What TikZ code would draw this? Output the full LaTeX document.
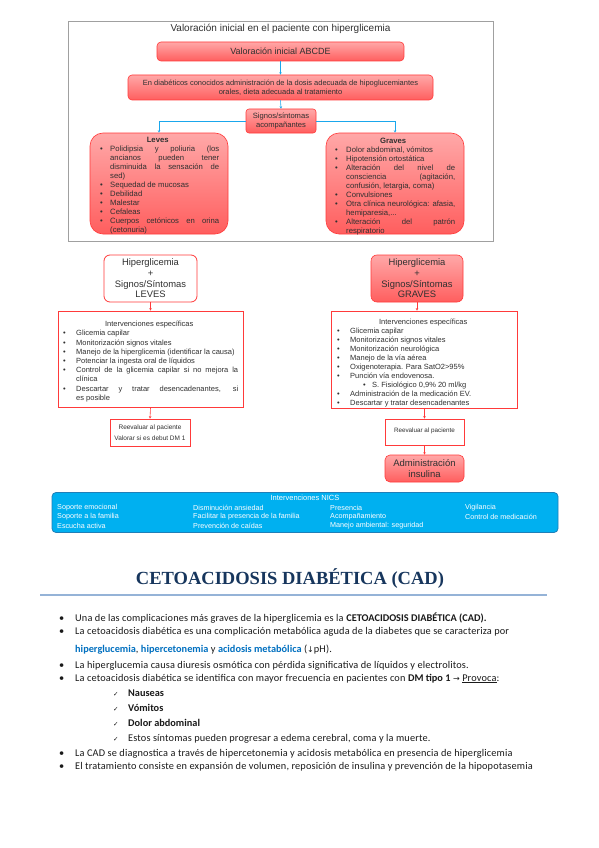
\documentclass[tikz,border=0pt]{standalone}
\usepackage{fontspec}
\setmainfont{Liberation Sans}
\newfontfamily\carlito[LetterSpace=1.5,BoldFeatures={LetterSpace=0}]{Carlito}
\newfontfamily\serifb{Liberation Serif}
\newfontfamily\djv{DejaVu Sans}
\usetikzlibrary{arrows.meta}
\definecolor{redtop}{HTML}{FFA8A8}
\definecolor{redbot}{HTML}{FF5E5E}
\definecolor{boxborder}{HTML}{FF3A3A}
\definecolor{framegray}{HTML}{A0A0A0}
\definecolor{arrblue}{HTML}{1AA7EC}
\definecolor{txt}{HTML}{303030}
\definecolor{nicsfill}{HTML}{00B0F0}
\definecolor{nicsdraw}{HTML}{1F7FB8}
\definecolor{navy}{HTML}{17365D}
\definecolor{rulec}{HTML}{95B3D7}
\definecolor{hlblue}{HTML}{0070C0}
\definecolor{bodytxt}{HTML}{1A1A1A}
\newlength\bind
\newlength\tind
\newcommand\li[1]{\par\noindent\hangindent=\tind\hangafter=1\makebox[\tind][l]{\hspace*{\bind}\textbullet}#1}
\newcommand\lisub[1]{\par\noindent\hangindent=38pt\hangafter=1\makebox[38pt][l]{\hspace*{29pt}\textbullet}#1}
\hyphenpenalty=10000
\exhyphenpenalty=10000
\tolerance=10000
\tikzset{
 redbox/.style={draw=boxborder, line width=0.6, top color=redtop, bottom color=redbot, inner sep=1, text=txt},
 whitebox/.style={draw=boxborder, line width=0.8, fill=white, text=txt, inner sep=1},
 intbox/.style={draw=boxborder, line width=0.8, fill=white},
 framebox/.style={draw=framegray, line width=0.9, fill=white},
 bluearr/.style={draw=arrblue, line width=0.6, -{Stealth[length=2.5pt,width=2.5pt]}},
 redarr/.style={draw=boxborder, line width=0.6, -{Stealth[length=2.5pt,width=2.5pt]}},
 listtext/.style={inner sep=0, align=justify, text=txt, font=\fontsize{7.7}{9}\selectfont, anchor=north west},
 inttext/.style={inner sep=0, align=justify, text=txt, font=\fontsize{7.5}{9.2}\selectfont, anchor=north west, text width=178},
 nicstxt/.style={text=white, font=\fontsize{7.2}{9}\selectfont, anchor=west, inner sep=0},
 body/.style={font=\carlito\fontsize{10.3}{12}\selectfont, anchor=base west, inner sep=0, text=bodytxt},
}
\begin{document}
\begin{tikzpicture}[x=1pt,y=-1pt]
\useasboundingbox (0,0) rectangle (599,848);
\fill[white] (0,0) rectangle (599,848);

% ---------- top frame ----------
\node[framebox, minimum width=425, minimum height=220] (frame) at (280.5,131) {};
\node[text=txt, font=\fontsize{10}{12}\selectfont] (ttl) at (280.5,29) {Valoración inicial en el paciente con hiperglicemia};
\node[redbox, rounded corners=4, minimum width=247, minimum height=19, font=\fontsize{9}{11}\selectfont] (abcde) at (280.5,51.5) {Valoración inicial ABCDE};
\node[redbox, rounded corners=4, minimum width=305, minimum height=25, align=center, font=\fontsize{7.5}{9}\selectfont] (diab) at (280.5,87.5) {En diabéticos conocidos administración de la dosis adecuada de hipoglucemiantes\\orales, dieta adecuada al tratamiento};
\node[redbox, rounded corners=3, minimum width=70, minimum height=24, align=center, font=\fontsize{7.6}{9.5}\selectfont] (signos) at (281,121) {Signos/síntomas\\acompañantes};
\node[redbox, rounded corners=13, minimum width=138, minimum height=101] (leves) at (159,183.5) {};
\node[redbox, rounded corners=13, minimum width=138, minimum height=101] (graves) at (395,183.5) {};

\node[listtext, text width=123] (levesT) at (96,137.5) {\setlength\bind{4pt}\setlength\tind{14pt}%
{\centering\textbf{Leves}\par}%
\li{Polidipsia y poliuria (los\linebreak ancianos pueden tener\linebreak disminuida la sensación de\linebreak sed)}%
\li{Sequedad de mucosas}%
\li{Debilidad}%
\li{Malestar}%
\li{Cefaleas}%
\li{Cuerpos cetónicos en orina\linebreak (cetonuria)}\par};

\node[listtext, text width=124] (gravesT) at (331,137.5) {\setlength\bind{4pt}\setlength\tind{15pt}%
{\centering\textbf{Graves}\par}%
\li{Dolor abdominal, vómitos}%
\li{Hipotensión ortostática}%
\li{Alteración del nivel de\linebreak consciencia (agitación,\linebreak confusión, letargia, coma)}%
\li{Convulsiones}%
\li{Otra clínica neurológica: afasia,\linebreak hemiparesia,...}%
\li{Alteración del patrón\linebreak respiratorio}\par};

\draw[bluearr] (abcde.south) -- (diab.north);
\draw[bluearr] (diab.south) -- (signos.north);
\draw[bluearr] (signos.west) -| (leves.north);
\draw[bluearr] (signos.east) -| (graves.north);

% ---------- middle ----------
\node[whitebox, rounded corners=6, minimum width=93, minimum height=47, align=center, font=\fontsize{9.4}{10.7}\selectfont] (levesH) at (150.5,278.5) {Hiperglicemia\\+\\Signos/Síntomas\\LEVES};
\node[redbox, rounded corners=6, minimum width=92, minimum height=47, align=center, font=\fontsize{9.4}{10.7}\selectfont] (gravesH) at (417,278.5) {Hiperglicemia\\+\\Signos/Síntomas\\GRAVES};

\node[intbox, minimum width=185, minimum height=96] (intL) at (150.5,359) {};
\node[intbox, minimum width=186, minimum height=97] (intR) at (424,359.5) {};

\node[inttext] (intLT) at (60,321) {\setlength\bind{3pt}\setlength\tind{16pt}%
{\centering Intervenciones específicas\par}%
\li{Glicemia capilar}%
\li{Monitorización signos vitales}%
\li{Manejo de la hiperglicemia (identificar la causa)}%
\li{Potenciar la ingesta oral de líquidos}%
\li{Control de la glicemia capilar si no mejora la\linebreak clínica}%
\li{Descartar y tratar desencadenantes, si\linebreak es posible}\par};

\node[inttext, font=\fontsize{7.5}{9}\selectfont] (intRT) at (334,318.5) {\setlength\bind{3pt}\setlength\tind{16pt}%
{\centering Intervenciones específicas\par}%
\li{Glicemia capilar}%
\li{Monitorización signos vitales}%
\li{Monitorización neurológica}%
\li{Manejo de la vía aérea}%
\li{Oxigenoterapia. Para SatO2>95\%}%
\li{Punción vía endovenosa.}%
\lisub{S. Fisiológico 0,9\% 20 ml/kg}%
\li{Administración de la medicación EV.}%
\li{Descartar y tratar desencadenantes}\par};

\node[whitebox, minimum width=80, minimum height=27, align=center, font=\fontsize{6.5}{10.5}\selectfont] (reevL) at (150,432.5) {Reevaluar al paciente\\Valorar si es debut DM 1};
\node[whitebox, minimum width=79, minimum height=26, font=\fontsize{6.3}{8}\selectfont, text depth=4] (reevR) at (424.5,432) {Reevaluar al paciente};
\node[redbox, rounded corners=5, minimum width=79, minimum height=27, align=center, font=\fontsize{9.5}{11}\selectfont] (insul) at (424.5,468.5) {Administración\\insulina};

\draw[redarr] (levesH.south) -- (intL.north);
\draw[redarr] (intL.south) -- (reevL.north);
\draw[redarr] (gravesH.south) -- (gravesH.south |- intR.north);
\draw[redarr] (reevR.north |- intR.south) -- (reevR.north);
\draw[redarr] (reevR.south) -- (insul.north);

% ---------- NICS ----------
\node[draw=nicsdraw, line width=0.8, fill=nicsfill, rounded corners=4, minimum width=506, minimum height=40] (nics) at (305,512.5) {};
\node[text=white, font=\fontsize{7.5}{9}\selectfont, inner sep=0] (nicsT) at (305,497.5) {Intervenciones NICS};
\node[nicstxt] (n11) at (57,507.5) {Soporte emocional};
\node[nicstxt] (n12) at (57,516.5) {Soporte a la familia};
\node[nicstxt] (n13) at (57,525.5) {Escucha activa};
\node[nicstxt] (n21) at (193,507.5) {Disminución ansiedad};
\node[nicstxt] (n22) at (193,516.5) {Facilitar la presencia de la familia};
\node[nicstxt] (n23) at (193,525.5) {Prevención de caídas};
\node[nicstxt] (n31) at (330,507.5) {Presencia};
\node[nicstxt] (n32) at (330,516.5) {Acompañamiento};
\node[nicstxt] (n33) at (330,525.5) {Manejo ambiental: seguridad};
\node[nicstxt] (n41) at (465,507.5) {Vigilancia};
\node[nicstxt] (n42) at (465,516.5) {Control de medicación};

% ---------- CAD text ----------
\node[font=\serifb\bfseries\fontsize{18.5}{20}\selectfont, text=navy, inner sep=0] (cad) at (290,579) {CETOACIDOSIS DIABÉTICA (CAD)};
\draw[rulec, line width=1.3] (40,595) -- (547,595);

\node[body] (b1) at (59,621) {\makebox[16pt][l]{\textbullet}Una de las complicaciones más graves de la hiperglicemia es la \textbf{CETOACIDOSIS DIABÉTICA (CAD).}};
\node[body] (b2) at (59,634) {\makebox[16pt][l]{\textbullet}La cetoacidosis diabética es una complicación metabólica aguda de la diabetes que se caracteriza por};
\node[body] (b2b) at (75,652) {\textcolor{hlblue}{\textbf{hiperglucemia}}, \textcolor{hlblue}{\textbf{hipercetonemia}} y \textcolor{hlblue}{\textbf{acidosis metabólica}} ({\djv\fontsize{8}{9}\selectfont ↓}pH).};
\node[body] (b3) at (59,668) {\makebox[16pt][l]{\textbullet}La hiperglucemia causa diuresis osmótica con pérdida significativa de líquidos y electrolitos.};
\node[body] (b4) at (59,681) {\makebox[16pt][l]{\textbullet}La cetoacidosis diabética se identifica con mayor frecuencia en pacientes con \textbf{DM tipo 1} {\djv\fontsize{8}{9}\selectfont →} \underline{Provoca}:};
\node[body] (c1) at (113,696) {\makebox[15pt][l]{\djv\fontsize{6.5}{8}\selectfont ✓}\textbf{Nauseas}};
\node[body] (c2) at (113,711) {\makebox[15pt][l]{\djv\fontsize{6.5}{8}\selectfont ✓}\textbf{Vómitos}};
\node[body] (c3) at (113,726) {\makebox[15pt][l]{\djv\fontsize{6.5}{8}\selectfont ✓}\textbf{Dolor abdominal}};
\node[body] (c4) at (113,741) {\makebox[15pt][l]{\djv\fontsize{6.5}{8}\selectfont ✓}Estos síntomas pueden progresar a edema cerebral, coma y la muerte.};
\node[body] (b5) at (59,756) {\makebox[16pt][l]{\textbullet}La CAD se diagnostica a través de hipercetonemia y acidosis metabólica en presencia de hiperglicemia};
\node[body] (b6) at (59,769) {\makebox[16pt][l]{\textbullet}El tratamiento consiste en expansión de volumen, reposición de insulina y prevención de la hipopotasemia};
\end{tikzpicture}
\end{document}
